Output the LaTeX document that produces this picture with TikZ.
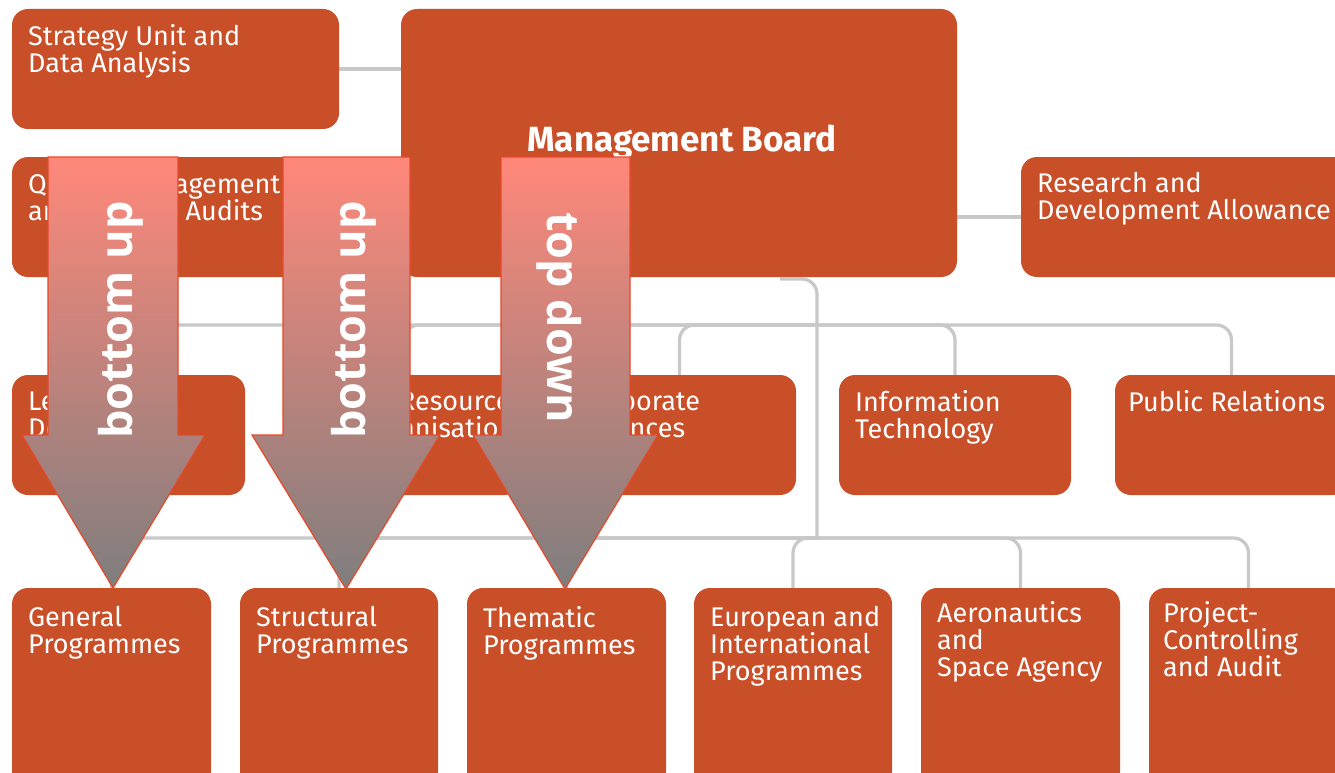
\documentclass[tikz,border=0pt]{standalone}
\usepackage{fontspec}
\setmainfont{Fira Sans}
\newfontfamily\arrfont{Open Sans}
\usetikzlibrary{calc,backgrounds}
\definecolor{boxorange}{RGB}{201,79,41}
\definecolor{linegray}{RGB}{200,200,200}
\definecolor{arrtop}{RGB}{255,136,122}
\definecolor{arrbot}{RGB}{126,126,126}
\definecolor{arredge}{RGB}{232,72,40}
\tikzset{
  box/.style={fill=boxorange, rounded corners=16pt, draw=none, inner sep=0pt, outer sep=0pt, anchor=north west},
  txt/.style={text=white, anchor=north west, align=left, inner sep=0pt, font=\fontsize{27}{27}\selectfont},
  conn/.style={draw=linegray, line width=3.2pt, rounded corners=15pt},
  bigarrow/.style={top color=arrtop, bottom color=arrbot, draw=arredge, line width=1.2pt, line join=miter},
  arrtxt/.style={text=white, font=\arrfont\bfseries\fontsize{45}{45}\selectfont, inner sep=0pt},
}
\newcommand{\fl}{\rule{0pt}{0.75em}}
\begin{document}
\begin{tikzpicture}[x=1pt,y=-1pt]
\useasboundingbox (0,0) rectangle (1335,773);
\clip (0,0) rectangle (1335,773);
% boxes
\node[box, minimum width=327, minimum height=120] (sua) at (12,9) {};
\node[box, minimum width=400, minimum height=120] (qm) at (12,157) {};
\node[box, minimum width=556, minimum height=268] (mb) at (401,9) {};
\node[box, minimum width=340, minimum height=120] (rda) at (1021,157) {};
\node[box, minimum width=233, minimum height=120] (legal) at (12,375) {};
\node[box, minimum width=232, minimum height=120] (hr) at (288,375) {};
\node[box, minimum width=233, minimum height=120] (cf) at (563,375) {};
\node[box, minimum width=232, minimum height=120] (it) at (839,375) {};
\node[box, minimum width=233, minimum height=120] (pr) at (1115,375) {};
\node[box, minimum width=199, minimum height=200] (gp) at (12,588) {};
\node[box, minimum width=198, minimum height=200] (sp) at (240,588) {};
\node[box, minimum width=199, minimum height=200] (tp) at (467,588) {};
\node[box, minimum width=198, minimum height=200] (eip) at (694,588) {};
\node[box, minimum width=199, minimum height=200] (asa) at (921,588) {};
\node[box, minimum width=199, minimum height=200] (pca) at (1149,588) {};
% texts
\node[txt] (sua-t) at ($(sua.north west)+(16,15)$) {\fl Strategy Unit and\\Data Analysis};
\node[txt] (qm-t) at ($(qm.north west)+(16,15)$) {\fl Quality Management\\and Internal Audits};
\node[txt] (rda-t) at ($(rda.north west)+(16,15)$) {\fl Research and\\Development Allowance};
\node[txt] (legal-t) at ($(legal.north west)+(16,15)$) {\fl Legal\\Department};
\node[txt] (hr-t) at ($(hr.north west)+(16,15)$) {\fl Human Resources\\and Organisation};
\node[txt] (cf-t) at ($(cf.north west)+(16,15)$) {\fl Corporate\\Finances};
\node[txt] (it-t) at ($(it.north west)+(16,15)$) {\fl Information\\Technology};
\node[txt] (pr-t) at ($(pr.north west)+(13,15)$) {\fl Public Relations};
\node[txt] (gp-t) at ($(gp.north west)+(16,18)$) {\fl General\\Programmes};
\node[txt] (sp-t) at ($(sp.north west)+(16,18)$) {\fl Structural\\Programmes};
\node[txt] (tp-t) at ($(tp.north west)+(16,18)$) {\fl Thematic\\Programmes};
\node[txt] (eip-t) at ($(eip.north west)+(16,18)$) {\fl European and\\International\\Programmes};
\node[txt] (asa-t) at ($(asa.north west)+(16,13)$) {\fl Aeronautics\\and\\Space Agency};
\node[txt] (pca-t) at ($(pca.north west)+(14,13)$) {\fl Project-\\Controlling\\and Audit};
\node[text=white, inner sep=0pt, anchor=base, font=\bfseries\fontsize{35}{35}\selectfont] (mb-t) at (682,151) {Management Board};
% connectors
\coordinate (mbfoot) at (780,279);
\coordinate (j1) at (817,325);
\coordinate (j2) at (817,538);
\begin{scope}[on background layer]
\fill[white] (0,0) rectangle (1335,773);
\draw[conn] (sua.east) -- (sua.east -| mb.west);
\draw[conn] (mb.east |- rda.west) -- (rda.west);
\draw[conn] (mbfoot) -| (j2);
\foreach \b in {legal,hr,cf,it,pr} { \draw[conn] (j1) -| (\b.north); }
\foreach \b in {gp,sp,tp,eip,asa,pca} { \draw[conn] (j2) -| (\b.north); }
\end{scope}
% big arrows
\path[bigarrow] (48,157) -- (178,157) -- (178,435) -- (205,435) -- (113,588) -- (22,435) -- (48,435) -- cycle;
\path[bigarrow] (283,157) -- (410,157) -- (410,435) -- (440,435) -- (346,589) -- (252,435) -- (283,435) -- cycle;
\path[bigarrow] (501,157) -- (630,157) -- (630,435) -- (658,435) -- (565,589) -- (473,435) -- (501,435) -- cycle;
\node[arrtxt, rotate=90] (a1-t) at (121,320) {bottom up};
\node[arrtxt, rotate=90] (a2-t) at (354,320) {bottom up};
\node[arrtxt, rotate=-90] (a3-t) at (559,318) {top down};
\end{tikzpicture}
\end{document}
